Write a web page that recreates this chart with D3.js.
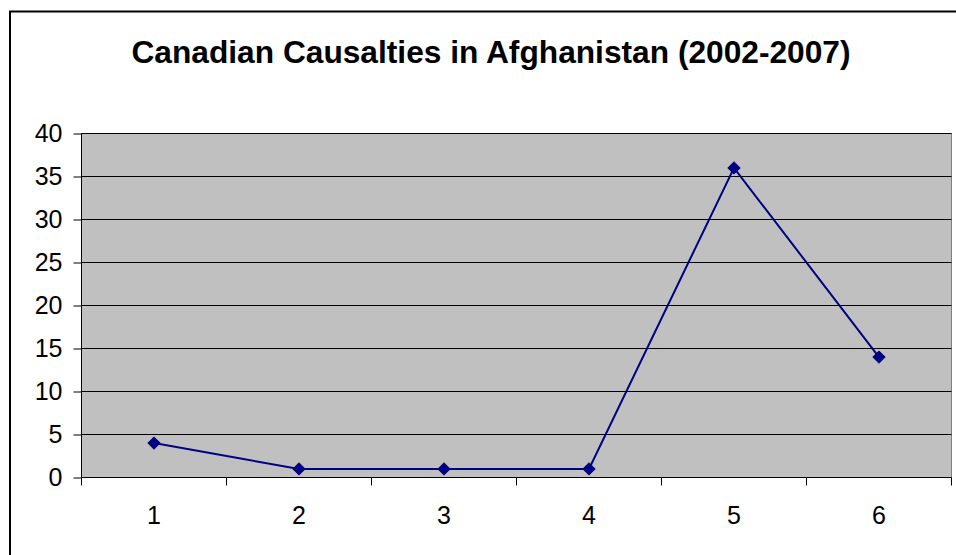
<!DOCTYPE html>
<html>
<head>
<meta charset="utf-8">
<script src="https://cdn.jsdelivr.net/npm/d3@7"></script>
<style>
  html, body { margin: 0; padding: 0; background: #fff; }
  svg { display: block; font-family: Arial, "Liberation Sans", sans-serif; }
</style>
</head>
<body>
<svg id="chart" width="956" height="555"></svg>
<script>
// Chart data
const categories = ["1", "2", "3", "4", "5", "6"];
const casualties = [4, 1, 1, 1, 36, 14];
const yTicks = [0, 5, 10, 15, 20, 25, 30, 35, 40];
const titleText = "Canadian Causalties in Afghanistan (2002-2007)";

const svg = d3.select("#chart");
const plot = { left: 81.5, right: 951.5, top: 133.5, bottom: 477.5 };

// Outer chart frame (runs past the right and bottom edges)
svg.append("rect")
  .attr("x", 10).attr("y", 11.5)
  .attr("width", 980).attr("height", 600)
  .attr("fill", "#fff").attr("stroke", "#000").attr("stroke-width", 2);

// Title
svg.append("text")
  .attr("x", 491).attr("y", 63)
  .attr("text-anchor", "middle")
  .attr("font-size", 31.7).attr("font-weight", "bold")
  .attr("fill", "#000")
  .text(titleText);

const x = d3.scaleBand().domain(categories).range([plot.left, plot.right]).padding(0);
const y = d3.scaleLinear().domain([0, 40]).range([plot.bottom, plot.top]);

// Plot area background
svg.append("rect")
  .attr("x", plot.left).attr("y", plot.top)
  .attr("width", plot.right - plot.left).attr("height", plot.bottom - plot.top)
  .attr("fill", "#c0c0c0").attr("stroke", "#808080").attr("stroke-width", 1);

// Horizontal gridlines
svg.append("g").selectAll("line")
  .data(yTicks.filter(d => d > 0))
  .join("line")
  .attr("x1", plot.left).attr("x2", plot.right)
  .attr("y1", d => y(d)).attr("y2", d => y(d))
  .attr("stroke", "#000").attr("stroke-width", 1);

// Y axis
const yAxis = d3.axisLeft(y).tickValues(yTicks).tickSize(8).tickPadding(11).tickFormat(d3.format("d"));
const gy = svg.append("g").attr("transform", `translate(${plot.left},0)`).call(yAxis);
gy.select(".domain").attr("stroke", "#000").attr("d", `M0,${plot.top}V${plot.bottom}`);
gy.selectAll(".tick line").attr("stroke", "#000");
gy.selectAll(".tick text")
  .attr("font-size", 25).attr("font-family", "Arial, 'Liberation Sans', sans-serif")
  .attr("fill", "#000");

// X axis: ticks between categories, labels centered in each band
const boundaries = categories.map(c => x(c)).concat([plot.right]);
const gx = svg.append("g");
gx.append("line")
  .attr("x1", plot.left).attr("x2", plot.right)
  .attr("y1", plot.bottom).attr("y2", plot.bottom)
  .attr("stroke", "#000");
gx.selectAll("line.tk").data(boundaries).join("line")
  .attr("class", "tk")
  .attr("x1", d => d).attr("x2", d => d)
  .attr("y1", plot.bottom).attr("y2", plot.bottom + 8)
  .attr("stroke", "#000");
gx.selectAll("text").data(categories).join("text")
  .attr("x", d => x(d) + x.bandwidth() / 2)
  .attr("y", 524)
  .attr("text-anchor", "middle")
  .attr("font-size", 25)
  .attr("fill", "#000")
  .text(d => d);

// Series line
const cx = (d, i) => x(categories[i]) + x.bandwidth() / 2;
const line = d3.line().x((d, i) => cx(d, i)).y(d => y(d));
svg.append("path")
  .datum(casualties)
  .attr("d", line)
  .attr("fill", "none")
  .attr("stroke", "#000080")
  .attr("stroke-width", 2);

// Diamond markers
const diamond = d3.symbol().type(d3.symbolSquare).size(72);
svg.append("g").selectAll("path")
  .data(casualties)
  .join("path")
  .attr("d", diamond)
  .attr("transform", (d, i) => `translate(${cx(d, i)},${y(d)}) rotate(45)`)
  .attr("fill", "#000080")
  .attr("stroke", "#000080")
  .attr("stroke-width", 1);
</script>
</body>
</html>
